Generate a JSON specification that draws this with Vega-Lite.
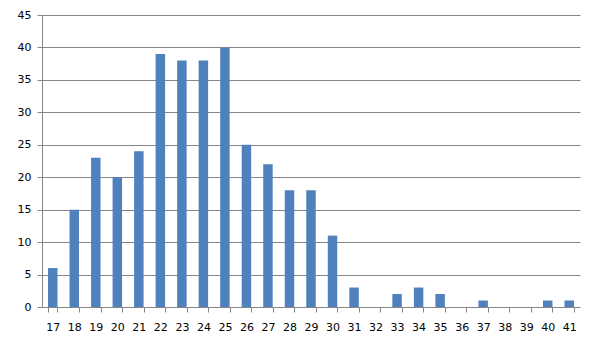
{
  "$schema": "https://vega.github.io/schema/vega-lite/v6.json",
  "width": 538,
  "height": 292,
  "autosize": {"type": "none"},
  "padding": {"left": 42, "top": 15, "right": 16, "bottom": 46},
  "background": "white",
  "config": {
    "view": {"stroke": null},
    "font": "DejaVu Sans"
  },
  "data": {
    "values": [
      {"age": "17", "count": 6},
      {"age": "18", "count": 15},
      {"age": "19", "count": 23},
      {"age": "20", "count": 20},
      {"age": "21", "count": 24},
      {"age": "22", "count": 39},
      {"age": "23", "count": 38},
      {"age": "24", "count": 38},
      {"age": "25", "count": 40},
      {"age": "26", "count": 25},
      {"age": "27", "count": 22},
      {"age": "28", "count": 18},
      {"age": "29", "count": 18},
      {"age": "30", "count": 11},
      {"age": "31", "count": 3},
      {"age": "32", "count": 0},
      {"age": "33", "count": 2},
      {"age": "34", "count": 3},
      {"age": "35", "count": 2},
      {"age": "36", "count": 0},
      {"age": "37", "count": 1},
      {"age": "38", "count": 0},
      {"age": "39", "count": 0},
      {"age": "40", "count": 1},
      {"age": "41", "count": 1}
    ]
  },
  "mark": {"type": "bar", "color": "#4F81BD"},
  "encoding": {
    "x": {
      "field": "age",
      "type": "ordinal",
      "sort": null,
      "scale": {"paddingInner": 0.56, "paddingOuter": 0.28},
      "axis": {
        "title": null,
        "labelAngle": 0,
        "labelFontSize": 11,
        "labelColor": "#000000",
        "labelPadding": 9,
        "domainColor": "#868686",
        "tickColor": "#868686",
        "tickBand": "extent",
        "tickSize": 5
      }
    },
    "y": {
      "field": "count",
      "type": "quantitative",
      "scale": {"domain": [0, 45]},
      "axis": {
        "title": null,
        "values": [0, 5, 10, 15, 20, 25, 30, 35, 40, 45],
        "labelFontSize": 11,
        "labelColor": "#000000",
        "labelPadding": 6,
        "domainColor": "#868686",
        "tickColor": "#868686",
        "tickSize": 5,
        "gridColor": "#868686",
        "gridOpacity": 1
      }
    }
  }
}
